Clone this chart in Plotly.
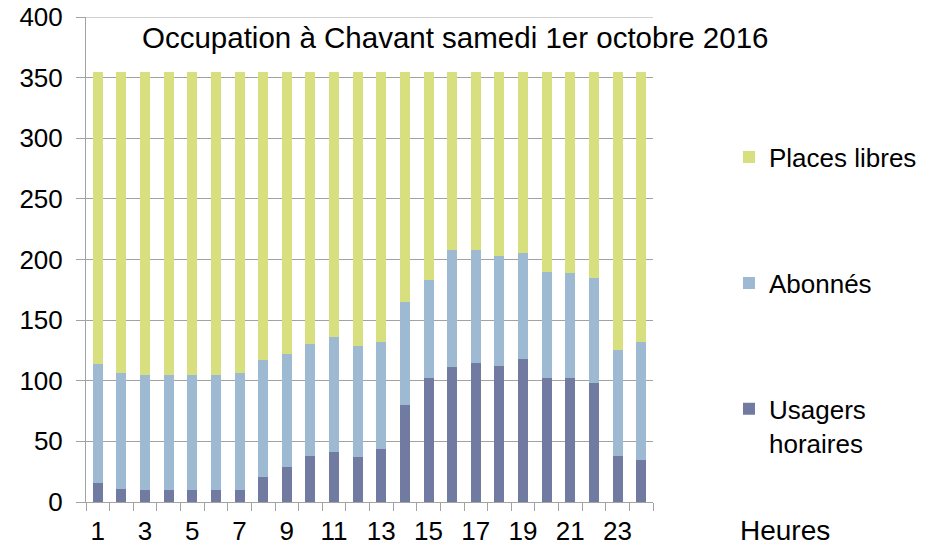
import plotly.graph_objects as go

heures = list(range(1, 25))
usagers_horaires = [16, 11, 10, 10, 10, 10, 10, 21, 29, 38, 41, 37, 44, 80, 102, 111, 115, 112, 118, 102, 102, 98, 38, 35]
abonnes = [98, 95, 95, 95, 95, 95, 96, 96, 93, 92, 95, 92, 88, 85, 81, 97, 93, 91, 87, 88, 87, 87, 87, 97]
places_libres = [241, 249, 250, 250, 250, 250, 249, 238, 233, 225, 219, 226, 223, 190, 172, 147, 147, 152, 150, 165, 166, 170, 230, 223]
x_tick_vals = [1, 3, 5, 7, 9, 11, 13, 15, 17, 19, 21, 23]
x_tick_text = ["1", "3", "5", "7", "9", "11", "13", "15", "17", "19", "21", "23"]
y_tick_vals = [0, 50, 100, 150, 200, 250, 300, 350, 400]
y_max = 400

FONT = "Liberation Sans, Arial, sans-serif"
C_LIBRES = "#D7DF7F"
C_ABON = "#9EB9D2"
C_HOR = "#717BA2"
GRID = "#A3A3A3"

fig = go.Figure()
fig.add_trace(go.Bar(x=heures, y=usagers_horaires, name="Usagers<br>horaires", showlegend=True,
                     marker=dict(color=C_HOR, line=dict(width=0)), legend="legend3"))
fig.add_trace(go.Bar(x=heures, y=abonnes, name="Abonnés", showlegend=True,
                     marker=dict(color=C_ABON, line=dict(width=0)), legend="legend2"))
fig.add_trace(go.Bar(x=heures, y=places_libres, name="Places libres", showlegend=True,
                     marker=dict(color=C_LIBRES, line=dict(width=0)), legend="legend"))

legend_common = dict(xanchor="left", x=1.134, yanchor="middle", bgcolor="rgba(0,0,0,0)",
                     font=dict(family=FONT, size=26, color="#000000"), valign="top")

fig.update_layout(
    width=927, height=537,
    margin=dict(l=78, r=282, t=9, b=43, autoexpand=False),
    paper_bgcolor="white", plot_bgcolor="white",
    showlegend=True,
    barmode="stack", bargap=0.58,
    font=dict(family=FONT, size=26, color="#000000"),
    legend=dict(y=0.711, visible=True, **legend_common),
    legend2=dict(y=0.4515, visible=True, **legend_common),
    legend3=dict(y=0.157, visible=True, **legend_common),
    xaxis=dict(
        range=[0.5, 24.5], tickmode="array", tickvals=x_tick_vals, ticktext=x_tick_text,
        ticks="", showgrid=False, showline=True, linecolor=GRID, linewidth=1,
        tickfont=dict(family=FONT, size=26, color="#000000"),
        ticklabelstandoff=6, zeroline=False, automargin=False, ticklabeloverflow="allow",
        minor=dict(tick0=0.5, dtick=1, ticks="outside", ticklen=8, tickcolor=GRID, showgrid=False),
    ),
    yaxis=dict(
        range=[0, y_max], tickmode="array", tickvals=y_tick_vals,
        showgrid=True, gridcolor=GRID, gridwidth=1,
        showline=True, linecolor=GRID, linewidth=1,
        ticks="outside", ticklen=9, tickcolor=GRID,
        tickfont=dict(family=FONT, size=26, color="#000000"),
        ticklabelstandoff=8, zeroline=False, automargin=False, ticklabeloverflow="allow",
    ),
    shapes=[
        dict(type="line", xref="paper", yref="y", x0=0, x1=1, y0=y_max, y1=y_max,
             line=dict(color=GRID, width=1), layer="below"),
    ],
    annotations=[
        dict(text="Occupation à Chavant samedi 1er octobre 2016", xref="paper", yref="paper",
             x=0.65, y=0.957, xanchor="center", yanchor="middle", showarrow=False,
             font=dict(family=FONT, size=29.5, color="#000000")),
        dict(text="Heures", xref="paper", yref="paper",
             x=1.233, y=-0.058, xanchor="center", yanchor="middle", showarrow=False,
             font=dict(family=FONT, size=28, color="#000000")),
    ],
)

fig.write_html("out.html")
